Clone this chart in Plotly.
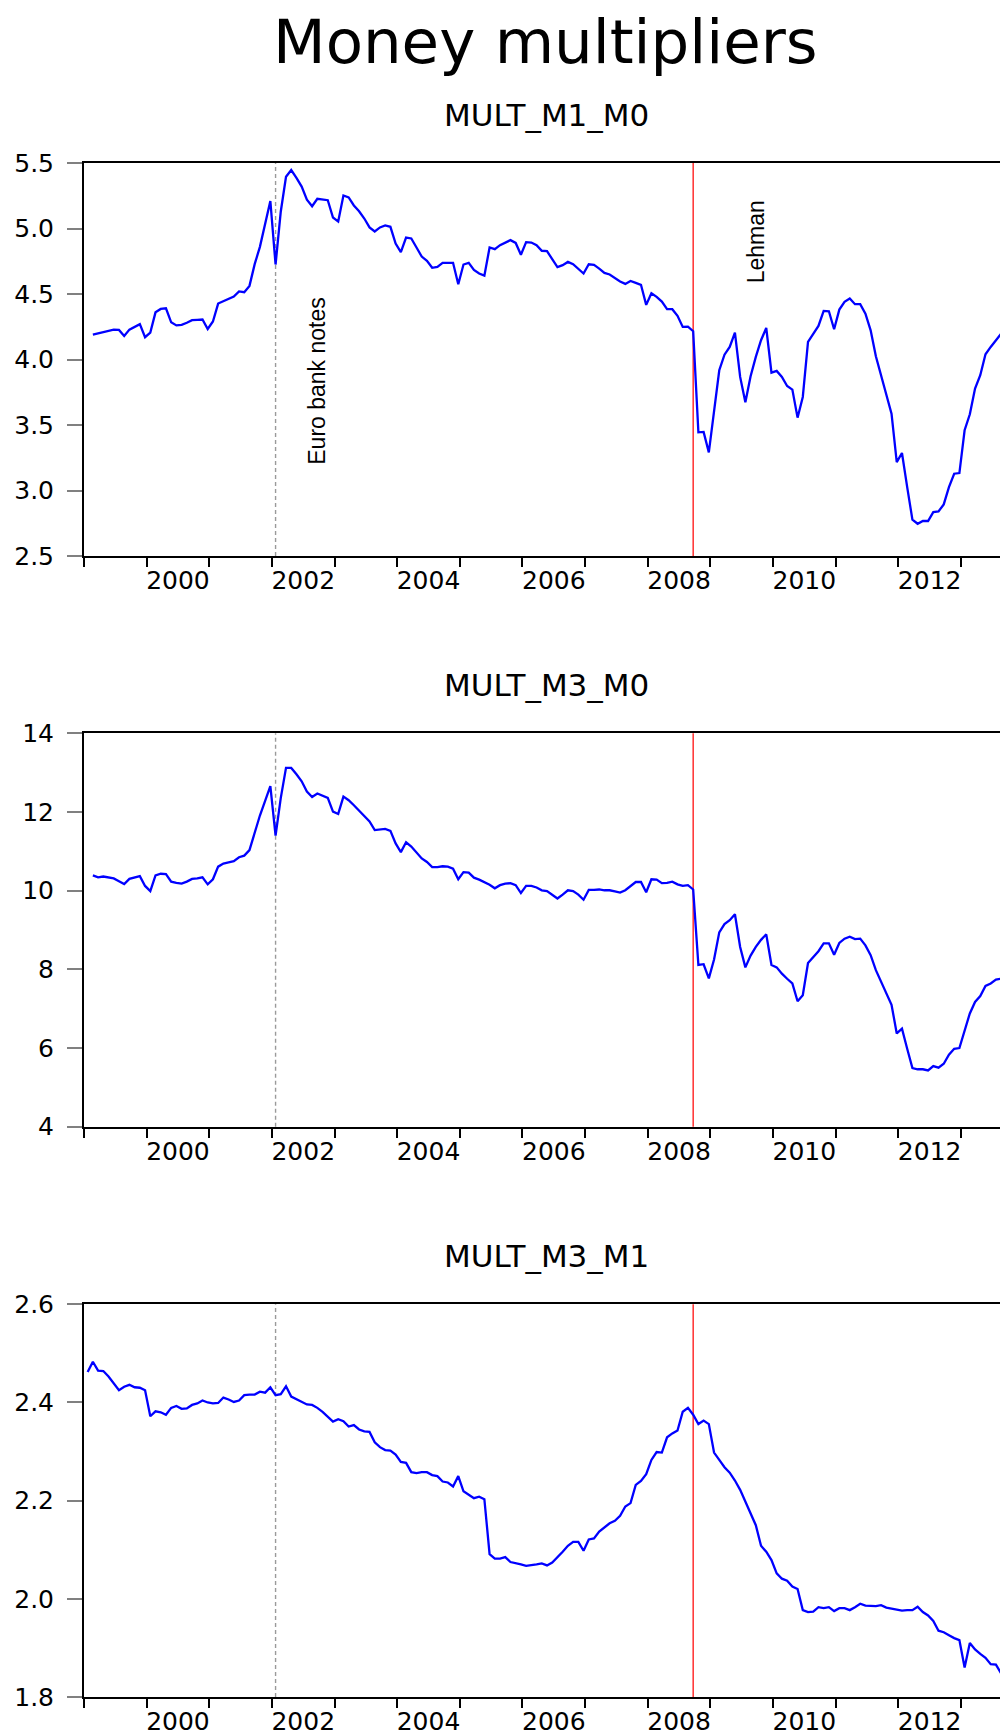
import plotly.graph_objects as go

W, H = 1000, 1735

# ---------------- data ----------------
START_M0_SERIES = (1999, 2)   # first month of MULT_M1_M0 and MULT_M3_M0
START_M3_M1 = (1999, 1)       # first month of MULT_M3_M1

mult_m1_m0 = [
    4.19, 4.20, 4.21, 4.22, 4.228, 4.226, 4.18, 4.228, 4.25, 4.27,
    4.17, 4.205, 4.36, 4.386, 4.391, 4.284, 4.26, 4.264, 4.28, 4.30,
    4.303, 4.305, 4.233, 4.29, 4.427, 4.445, 4.46, 4.48, 4.52, 4.514,
    4.562, 4.728, 4.86, 5.025, 5.21, 4.725, 5.13, 5.395, 5.446, 5.387,
    5.32, 5.22, 5.17, 5.227, 5.219, 5.216, 5.084, 5.053, 5.252, 5.237,
    5.176, 5.132, 5.076, 5.008, 4.977, 5.008, 5.023, 5.013, 4.885, 4.819,
    4.931, 4.924, 4.855, 4.786, 4.753, 4.70, 4.707, 4.738, 4.738, 4.738,
    4.575, 4.725, 4.738, 4.684, 4.656, 4.64, 4.855, 4.842, 4.873, 4.89,
    4.911, 4.89, 4.80, 4.896, 4.893, 4.873, 4.83, 4.827, 4.77, 4.705,
    4.72, 4.745, 4.727, 4.692, 4.656, 4.727, 4.722, 4.694, 4.661, 4.649,
    4.623, 4.595, 4.577, 4.60, 4.585, 4.57, 4.417, 4.506, 4.478, 4.442,
    4.384, 4.384, 4.333, 4.249, 4.251, 4.216, 3.444, 3.447, 3.291, 3.587,
    3.918, 4.037, 4.096, 4.205, 3.867, 3.673, 3.872, 4.02, 4.147, 4.241,
    3.90, 3.913, 3.867, 3.798, 3.77, 3.556, 3.714, 4.134, 4.198, 4.256,
    4.371, 4.368, 4.231, 4.381, 4.44, 4.465, 4.422, 4.422, 4.35, 4.223,
    4.025, 3.88, 3.74, 3.587, 3.217, 3.286, 3.026, 2.777, 2.746, 2.767,
    2.767, 2.835, 2.84, 2.894, 3.026, 3.128, 3.133, 3.46, 3.582, 3.778,
    3.88, 4.04, 4.096, 4.147, 4.198,
]

mult_m3_m0 = [
    10.39, 10.34, 10.36, 10.34, 10.31, 10.24, 10.17, 10.30, 10.33, 10.37,
    10.12, 9.99, 10.39, 10.43, 10.42, 10.23, 10.20, 10.18, 10.23, 10.30,
    10.31, 10.34, 10.16, 10.29, 10.61, 10.69, 10.72, 10.75, 10.85, 10.89,
    11.03, 11.49, 11.91, 12.28, 12.66, 11.40, 12.36, 13.12, 13.12, 12.96,
    12.78, 12.52, 12.38, 12.47, 12.42, 12.36, 12.01, 11.95, 12.39, 12.30,
    12.17, 12.03, 11.90, 11.76, 11.54, 11.55, 11.57, 11.52, 11.20, 10.98,
    11.23, 11.12, 10.96, 10.82, 10.73, 10.60, 10.60, 10.62, 10.61, 10.56,
    10.29, 10.47, 10.46, 10.33, 10.28, 10.22, 10.15, 10.06, 10.14, 10.18,
    10.19, 10.14, 9.94, 10.12, 10.12, 10.08, 10.01, 9.99, 9.90, 9.80,
    9.90, 10.01, 9.99, 9.90, 9.77, 10.02, 10.02, 10.03, 10.01, 10.01,
    9.98, 9.95, 10.01, 10.11, 10.22, 10.22, 9.96, 10.29, 10.28, 10.19,
    10.20, 10.23, 10.16, 10.12, 10.14, 10.03, 8.11, 8.13, 7.77, 8.25,
    8.94, 9.15, 9.25, 9.40, 8.57, 8.05, 8.35, 8.57, 8.75, 8.89,
    8.11, 8.05, 7.89, 7.76, 7.64, 7.19, 7.34, 8.16, 8.32, 8.46,
    8.66, 8.66, 8.37, 8.67, 8.78, 8.83, 8.77, 8.78, 8.61, 8.36,
    7.98, 7.68, 7.40, 7.10, 6.37, 6.49, 5.98, 5.49, 5.46, 5.46,
    5.43, 5.54, 5.50, 5.60, 5.83, 5.98, 6.00, 6.45, 6.88, 7.17,
    7.32, 7.58, 7.64, 7.74, 7.76,
]

mult_m3_m1 = [
    2.462,
    2.483, 2.465, 2.464, 2.453, 2.44, 2.425, 2.432, 2.436, 2.431, 2.430,
    2.425, 2.372, 2.382, 2.38, 2.375, 2.389, 2.393, 2.387, 2.388, 2.395,
    2.398, 2.404, 2.40, 2.398, 2.399, 2.41, 2.406, 2.401, 2.404, 2.415,
    2.416, 2.416, 2.422, 2.42, 2.431, 2.415, 2.417, 2.433, 2.412, 2.407,
    2.402, 2.396, 2.395, 2.389, 2.381, 2.371, 2.361, 2.366, 2.362, 2.351,
    2.354, 2.345, 2.341, 2.34, 2.319, 2.309, 2.303, 2.302, 2.294, 2.279,
    2.277, 2.258, 2.256, 2.258, 2.258, 2.252, 2.25, 2.239, 2.237, 2.229,
    2.25, 2.219, 2.212, 2.205, 2.208, 2.203, 2.091, 2.082, 2.082, 2.085,
    2.075, 2.073, 2.07, 2.067, 2.068, 2.07, 2.072, 2.068, 2.074, 2.084,
    2.096, 2.108, 2.116, 2.116, 2.098, 2.121, 2.123, 2.137, 2.146, 2.154,
    2.159, 2.169, 2.188, 2.195, 2.232, 2.24, 2.254, 2.283, 2.299, 2.298,
    2.329, 2.337, 2.343, 2.381, 2.389, 2.375, 2.356, 2.363, 2.356, 2.298,
    2.283, 2.268, 2.257, 2.241, 2.222, 2.197, 2.173, 2.15, 2.108, 2.096,
    2.079, 2.052, 2.041, 2.037, 2.025, 2.02, 1.977, 1.973, 1.974, 1.983,
    1.981, 1.983, 1.975, 1.981, 1.981, 1.977, 1.983, 1.99, 1.986, 1.985,
    1.985, 1.987, 1.982, 1.98, 1.978, 1.976, 1.977, 1.977, 1.984, 1.973,
    1.966, 1.955, 1.935, 1.932, 1.926, 1.92, 1.916, 1.86, 1.91, 1.897,
    1.888, 1.88, 1.867, 1.866, 1.848,
]

panel_titles = ["MULT_M1_M0", "MULT_M3_M0", "MULT_M3_M1"]
main_title = "Money multipliers"
year_labels = [2000, 2002, 2004, 2006, 2008, 2010, 2012]
y_ticks = [
    [2.5, 3.0, 3.5, 4.0, 4.5, 5.0, 5.5],
    [4, 6, 8, 10, 12, 14],
    [1.8, 2.0, 2.2, 2.4, 2.6],
]
y_fmt = ["{:.1f}", "{:d}", "{:.1f}"]

EURO_MONTH = (2002, 1)
LEHMAN_MONTH = (2008, 9)
euro_text = "Euro bank notes"
lehman_text = "Lehman"

# ---------------- helpers ----------------
def month_pos(year, month):
    # position of a monthly observation on a fractional-year axis
    return year + (month - 1 + 0.7) / 12.0


def month_axis(start, n):
    y, m = start
    out = []
    for _ in range(n):
        out.append(month_pos(y, m))
        m += 1
        if m > 12:
            m = 1
            y += 1
    return out


# ---------------- layout geometry (pixels) ----------------
PLOT_LEFT = 84
panels_px = [(163, 556), (733.3, 1126.7), (1304.3, 1697)]  # (top, bottom)
X_RANGE = [1999.0, 1999.0 + (W - PLOT_LEFT) / 62.64]

BLUE = "#0000FF"
TICK_FONT = dict(family="DejaVu Sans", size=25, color="black")

series = [
    (mult_m1_m0, START_M0_SERIES),
    (mult_m3_m0, START_M0_SERIES),
    (mult_m3_m1, START_M3_M1),
]

fig = go.Figure()
layout = dict(
    width=W, height=H,
    margin=dict(l=0, r=0, t=0, b=0, pad=0, autoexpand=False),
    paper_bgcolor="white", plot_bgcolor="white",
    showlegend=False,
)

annotations = []
shapes = []

for i, ((vals, start), (top, bottom)) in enumerate(zip(series, panels_px)):
    n = i + 1
    xa = "x" if n == 1 else f"x{n}"
    ya = "y" if n == 1 else f"y{n}"
    xkey = "xaxis" if n == 1 else f"xaxis{n}"
    ykey = "yaxis" if n == 1 else f"yaxis{n}"

    fig.add_trace(go.Scatter(
        x=month_axis(start, len(vals)), y=vals,
        mode="lines", line=dict(color=BLUE, width=2.3),
        xaxis=xa, yaxis=ya, hoverinfo="x+y",
    ))

    yd = [1 - bottom / H, 1 - top / H]
    layout[xkey] = dict(
        domain=[PLOT_LEFT / W, 1.0], range=X_RANGE, anchor=ya,
        automargin=False,
        showline=True, linecolor="black", linewidth=2, mirror=True,
        showgrid=False, zeroline=False,
        tickmode="array",
        tickvals=[yr + 0.5 for yr in year_labels],
        ticktext=[str(yr) for yr in year_labels],
        ticks="outside", ticklen=1, tickcolor="rgba(0,0,0,0)",
        tickfont=TICK_FONT,
        minor=dict(tickmode="linear", tick0=1999, dtick=1, ticks="outside",
                   ticklen=9, tickwidth=1.5, tickcolor="black", showgrid=False),
    )
    yt = y_ticks[i]
    layout[ykey] = dict(
        domain=yd, range=[yt[0], yt[-1]], anchor=xa,
        automargin=False,
        showline=True, linecolor="black", linewidth=2,
        showgrid=False, zeroline=False,
        tickmode="array", tickvals=yt,
        ticktext=[y_fmt[i].format(v) for v in yt],
        ticks="outside", ticklen=15, tickwidth=1.5, tickcolor="#808080",
        tickfont=TICK_FONT, ticklabelstandoff=8,
    )

    # event lines
    shapes.append(dict(
        type="line", xref=xa, yref=f"{ya} domain",
        x0=month_pos(*EURO_MONTH), x1=month_pos(*EURO_MONTH), y0=0, y1=1,
        line=dict(color="#9a9a9a", width=1.4, dash="4px,3px"), layer="below",
    ))
    shapes.append(dict(
        type="line", xref=xa, yref=f"{ya} domain",
        x0=month_pos(*LEHMAN_MONTH), x1=month_pos(*LEHMAN_MONTH), y0=0, y1=1,
        line=dict(color="#ff2020", width=1.4), layer="below",
    ))

    # panel title
    annotations.append(dict(
        text=panel_titles[i], xref="paper", yref="paper",
        x=546 / W, y=1 - (top - 48) / H, xanchor="center", yanchor="middle",
        showarrow=False, font=dict(family="DejaVu Sans", size=31, color="black"),
    ))

# main title
annotations.append(dict(
    text=main_title, xref="paper", yref="paper",
    x=545 / W, y=1 - 41.5 / H, xanchor="center", yanchor="middle",
    showarrow=False, font=dict(family="DejaVu Sans", size=61, color="black"),
))

# event labels in the first panel
annotations.append(dict(
    text=euro_text, xref="x", yref="y", x=2002.716, y=3.836,
    textangle=-90, showarrow=False, xanchor="center", yanchor="middle",
    font=dict(family="Liberation Sans", size=23, color="black"),
))
annotations.append(dict(
    text=lehman_text, xref="x", yref="y", x=2009.733, y=4.897,
    textangle=-90, showarrow=False, xanchor="center", yanchor="middle",
    font=dict(family="Liberation Sans", size=23, color="black"),
))

layout["annotations"] = annotations
layout["shapes"] = shapes
fig.update_layout(**layout)

fig.write_html(
    "out.html",
    config={"displayModeBar": False},
    post_script="document.body.style.margin='0px';document.body.style.overflow='hidden';",
)
